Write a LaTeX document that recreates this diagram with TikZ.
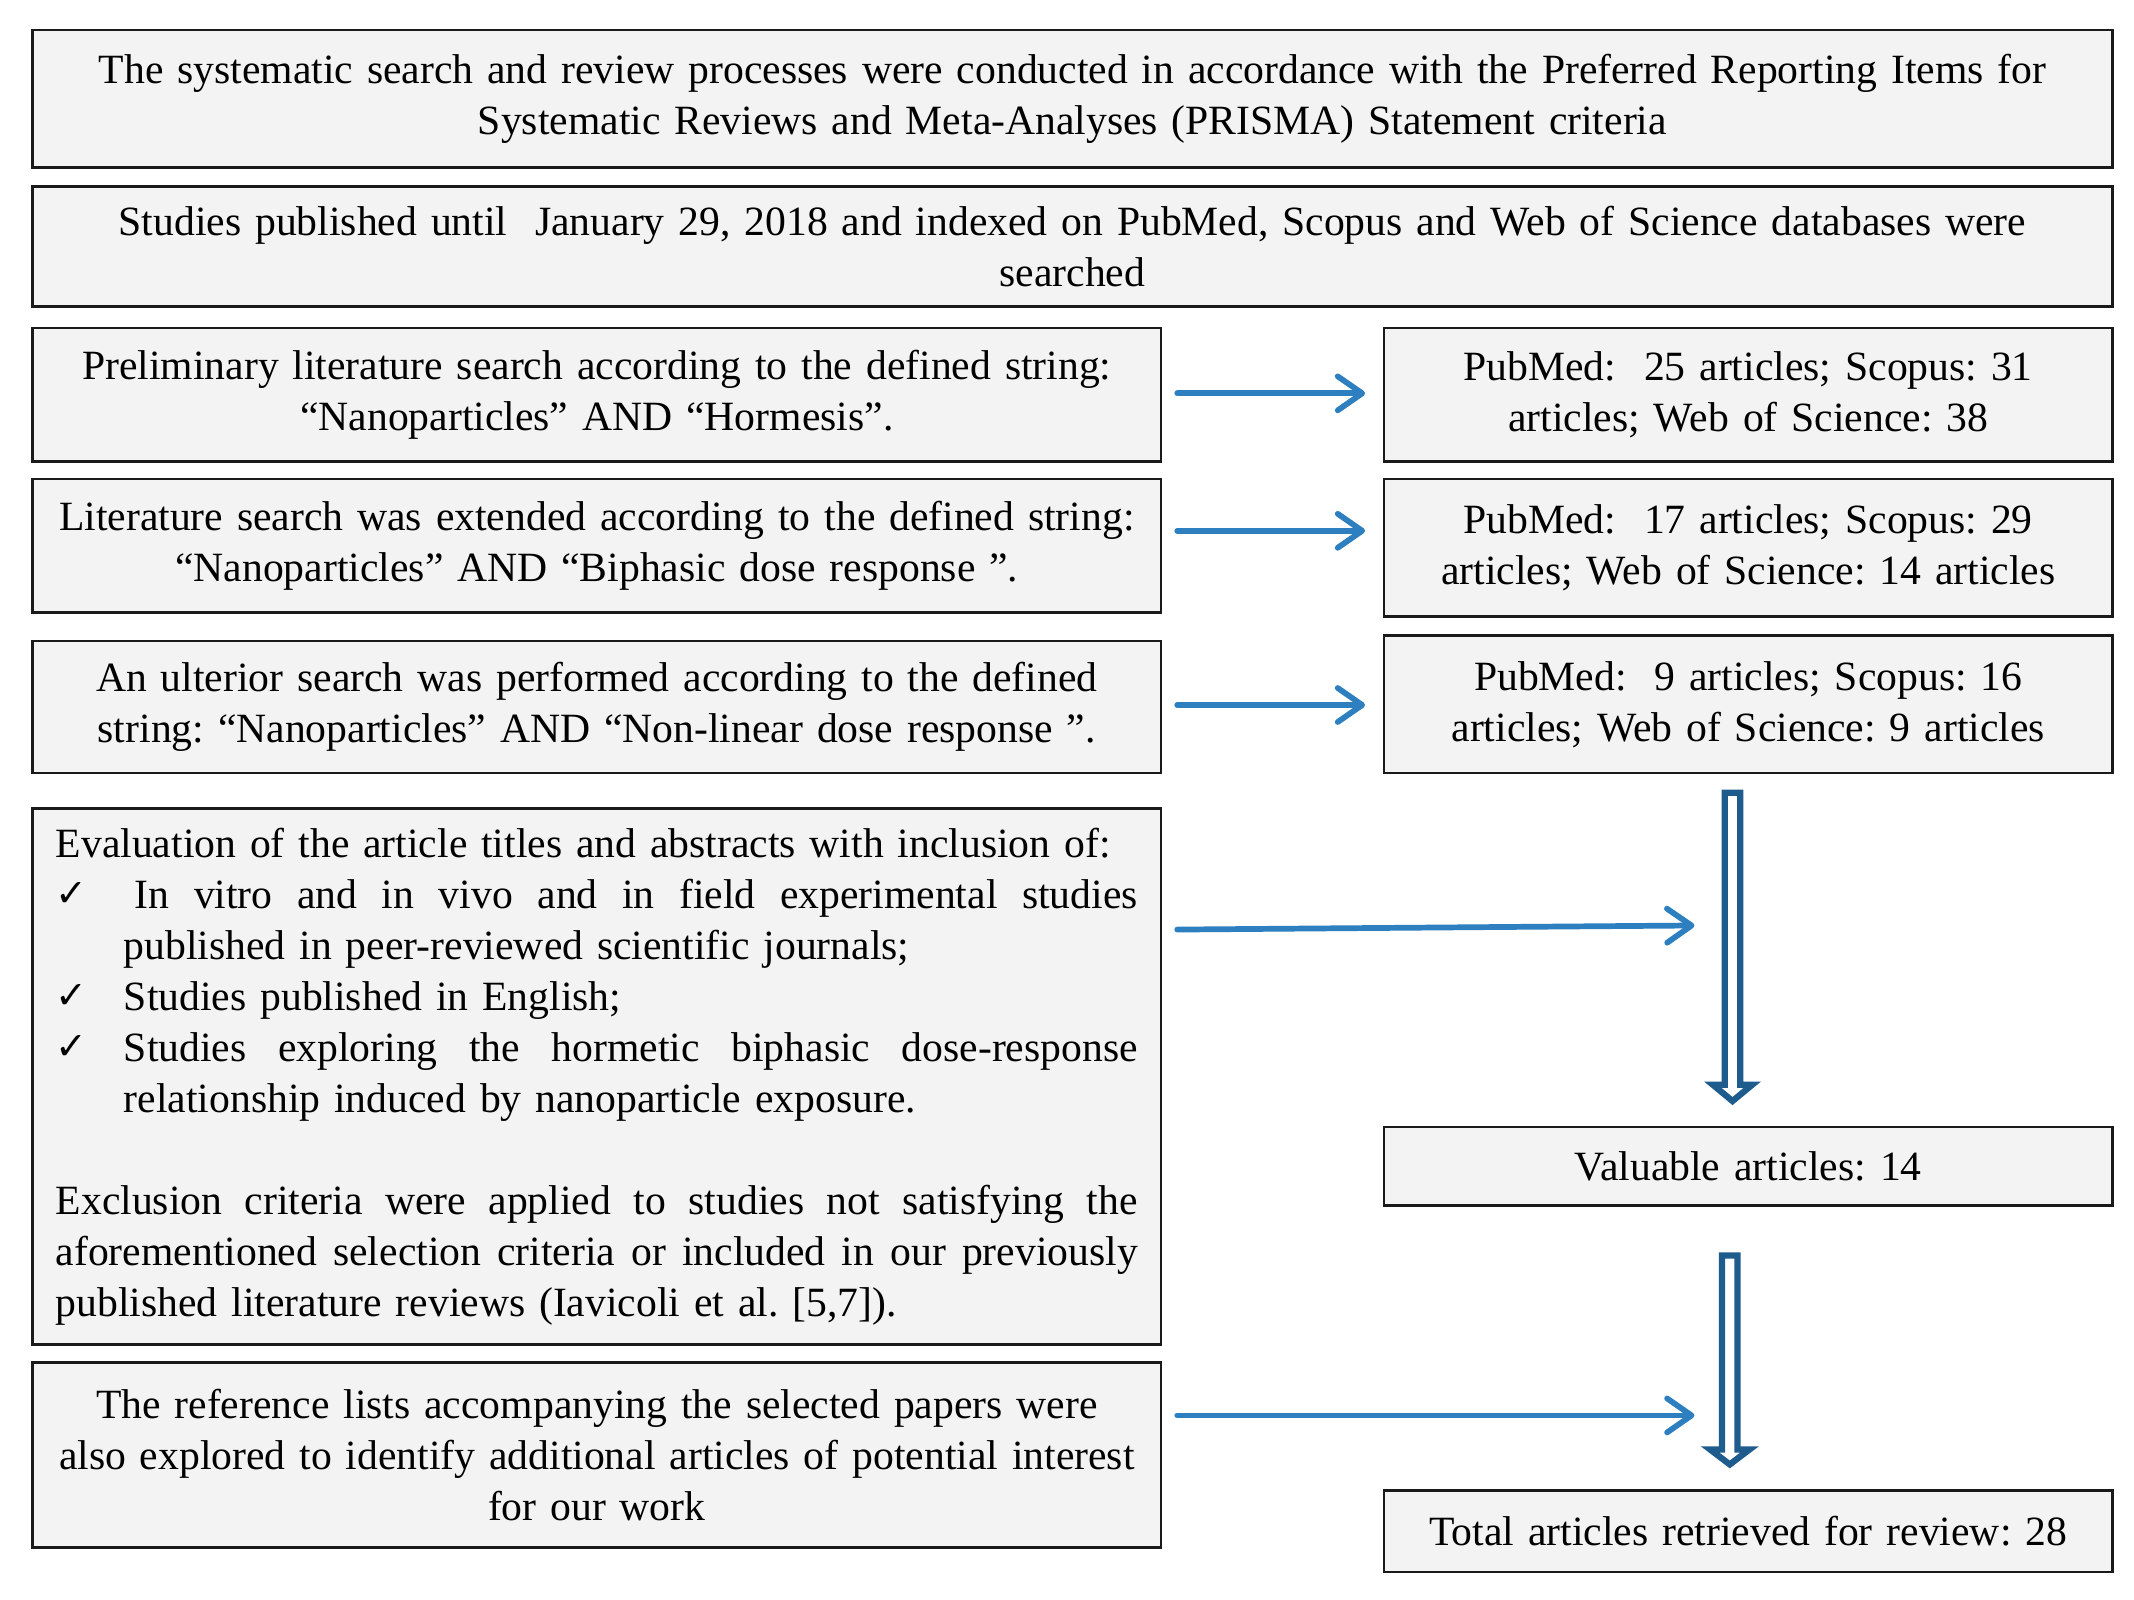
\documentclass[tikz,border=0pt]{standalone}
\usepackage{fontspec}
\setmainfont{Liberation Serif}
\newfontfamily\dejavu{DejaVu Sans}
\usetikzlibrary{arrows.meta,calc}
\frenchspacing
\definecolor{boxfill}{HTML}{F3F3F3}
\definecolor{boxline}{HTML}{1A1A1A}
\definecolor{thinblue}{HTML}{2E7FC0}
\definecolor{darkblue}{HTML}{1F5C8E}
\newcommand{\ck}{\makebox[25pt][l]{\raisebox{0.5pt}{\dejavu\fontsize{14}{14}\selectfont ✓}}}
\newcommand{\stretchline}[2]{\makebox[#1][s]{\spaceskip=0.25em plus 1fill\relax #2}}
\begin{document}
\begin{tikzpicture}[x=0.5pt,y=-0.5pt,
  box/.style={draw=boxline,line width=1pt,fill=boxfill,inner sep=0pt,
    font=\fontsize{15.3}{18.75}\selectfont,align=center},
  thinarrow/.style={draw=thinblue,line width=2.1pt,line cap=round,
    -{Straight Barb[length=9pt,width=12.5pt,round]}},
  hollow/.style={draw=darkblue,line width=2.3pt,fill=white,line join=miter}]
\useasboundingbox[fill=white] (0,0) rectangle (1568,1175);

\node[box,minimum width=764pt,minimum height=50.5pt,text width=750pt] (b1) at (788,72.5)
 {The systematic search and review processes were conducted in accordance with the Preferred Reporting Items for\\ Systematic Reviews and Meta-Analyses (PRISMA) Statement criteria};
\node[box,minimum width=764pt,minimum height=44pt,text width=750pt] (b2) at (788,181)
 {Studies published until\ \ January 29, 2018 and indexed on PubMed, Scopus and Web of Science databases were\\ searched};

\node[box,minimum width=414.5pt,minimum height=49pt,text width=405pt] (l1) at (438.5,290)
 {Preliminary literature search according to the defined string:\\ “Nanoparticles” AND “Hormesis”.};
\node[box,minimum width=414.5pt,minimum height=49pt,text width=405pt] (l2) at (438.5,401)
 {Literature search was extended according to the defined string:\\ “Nanoparticles” AND “Biphasic dose response ”.};
\node[box,minimum width=414.5pt,minimum height=48.5pt,text width=405pt] (l3) at (438.5,519.5)
 {An ulterior search was performed according to the defined\\ string: “Nanoparticles” AND “Non-linear dose response ”.};

\node[box,minimum width=414.5pt,minimum height=197pt,text width=397.5pt,align=left] (l4) at (438.5,791)
 {\makebox[397.5pt][l]{Evaluation of the article titles and abstracts with inclusion of:}\\
  \ck\hspace{4pt}\stretchline{368.5pt}{In vitro and in vivo and in field experimental studies}\\
  \hspace{25pt}\makebox[372.5pt][l]{published in peer-reviewed scientific journals;}\\
  \ck\makebox[372.5pt][l]{Studies published in English;}\\
  \ck\stretchline{372.5pt}{Studies exploring the hormetic biphasic dose-response}\\
  \hspace{25pt}\makebox[372.5pt][l]{relationship induced by nanoparticle exposure.}\\
  \mbox{}\\
  \stretchline{397.5pt}{Exclusion criteria were applied to studies not satisfying the}\\
  \stretchline{397.5pt}{aforementioned selection criteria or included in our previously}\\
  \makebox[397.5pt][l]{published literature reviews (Iavicoli et al. [5,7]).}};

\node[box,minimum width=414.5pt,minimum height=68pt,text width=405pt] (l5) at (438.5,1069)
 {The reference lists accompanying the selected papers were\\ also explored to identify additional articles of potential interest\\ for our work};

\node[box,minimum width=267.5pt,minimum height=49pt,text width=260pt] (r1) at (1284.5,290)
 {PubMed:\ \ 25 articles; Scopus: 31\\ articles; Web of Science: 38};
\node[box,minimum width=267.5pt,minimum height=50.5pt,text width=260pt] (r2) at (1284.5,402.5)
 {PubMed:\ \ 17 articles; Scopus: 29\\ articles; Web of Science: 14 articles};
\node[box,minimum width=267.5pt,minimum height=50.5pt,text width=260pt] (r3) at (1284.5,517.5)
 {PubMed:\ \ 9 articles; Scopus: 16\\ articles; Web of Science: 9 articles};
\node[box,minimum width=267.5pt,minimum height=29pt,text width=260pt] (r4) at (1284.5,857)
 {Valuable articles: 14};
\node[box,minimum width=267.5pt,minimum height=30pt,text width=260pt] (r5) at (1284.5,1125)
 {Total articles retrieved for review: 28};

% thin arrows
\coordinate (a1s) at (865,289);  \coordinate (a1e) at (1003,289);
\coordinate (a2s) at (865,390);  \coordinate (a2e) at (1003,390);
\coordinate (a3s) at (865,518);  \coordinate (a3e) at (1003,518);
\coordinate (a4s) at (865,683);  \coordinate (a4e) at (1245,680);
\coordinate (a5s) at (865,1040); \coordinate (a5e) at (1245,1040);
\draw[thinarrow] (a1s) -- (a1e);
\draw[thinarrow] (a2s) -- (a2e);
\draw[thinarrow] (a3s) -- (a3e);
\draw[thinarrow] (a4s) -- (a4e);
\draw[thinarrow] (a5s) -- (a5e);

% hollow arrows
\coordinate (h1s) at (1273,582.5); \coordinate (h1e) at (1273,809);
\draw[hollow] ($(h1s)+(-5.7,0)$) -- ($(h1s)+(5.7,0)$) -- ($(h1e)+(5.7,-12)$) -- ($(h1e)+(14.5,-12)$)
  -- (h1e) -- ($(h1e)+(-14.5,-12)$) -- ($(h1e)+(-5.7,-12)$) -- cycle;
\coordinate (h2s) at (1271,922.5); \coordinate (h2e) at (1271,1076);
\draw[hollow] ($(h2s)+(-5.7,0)$) -- ($(h2s)+(5.7,0)$) -- ($(h2e)+(5.7,-11)$) -- ($(h2e)+(14.5,-11)$)
  -- (h2e) -- ($(h2e)+(-14.5,-11)$) -- ($(h2e)+(-5.7,-11)$) -- cycle;
\end{tikzpicture}
\end{document}
